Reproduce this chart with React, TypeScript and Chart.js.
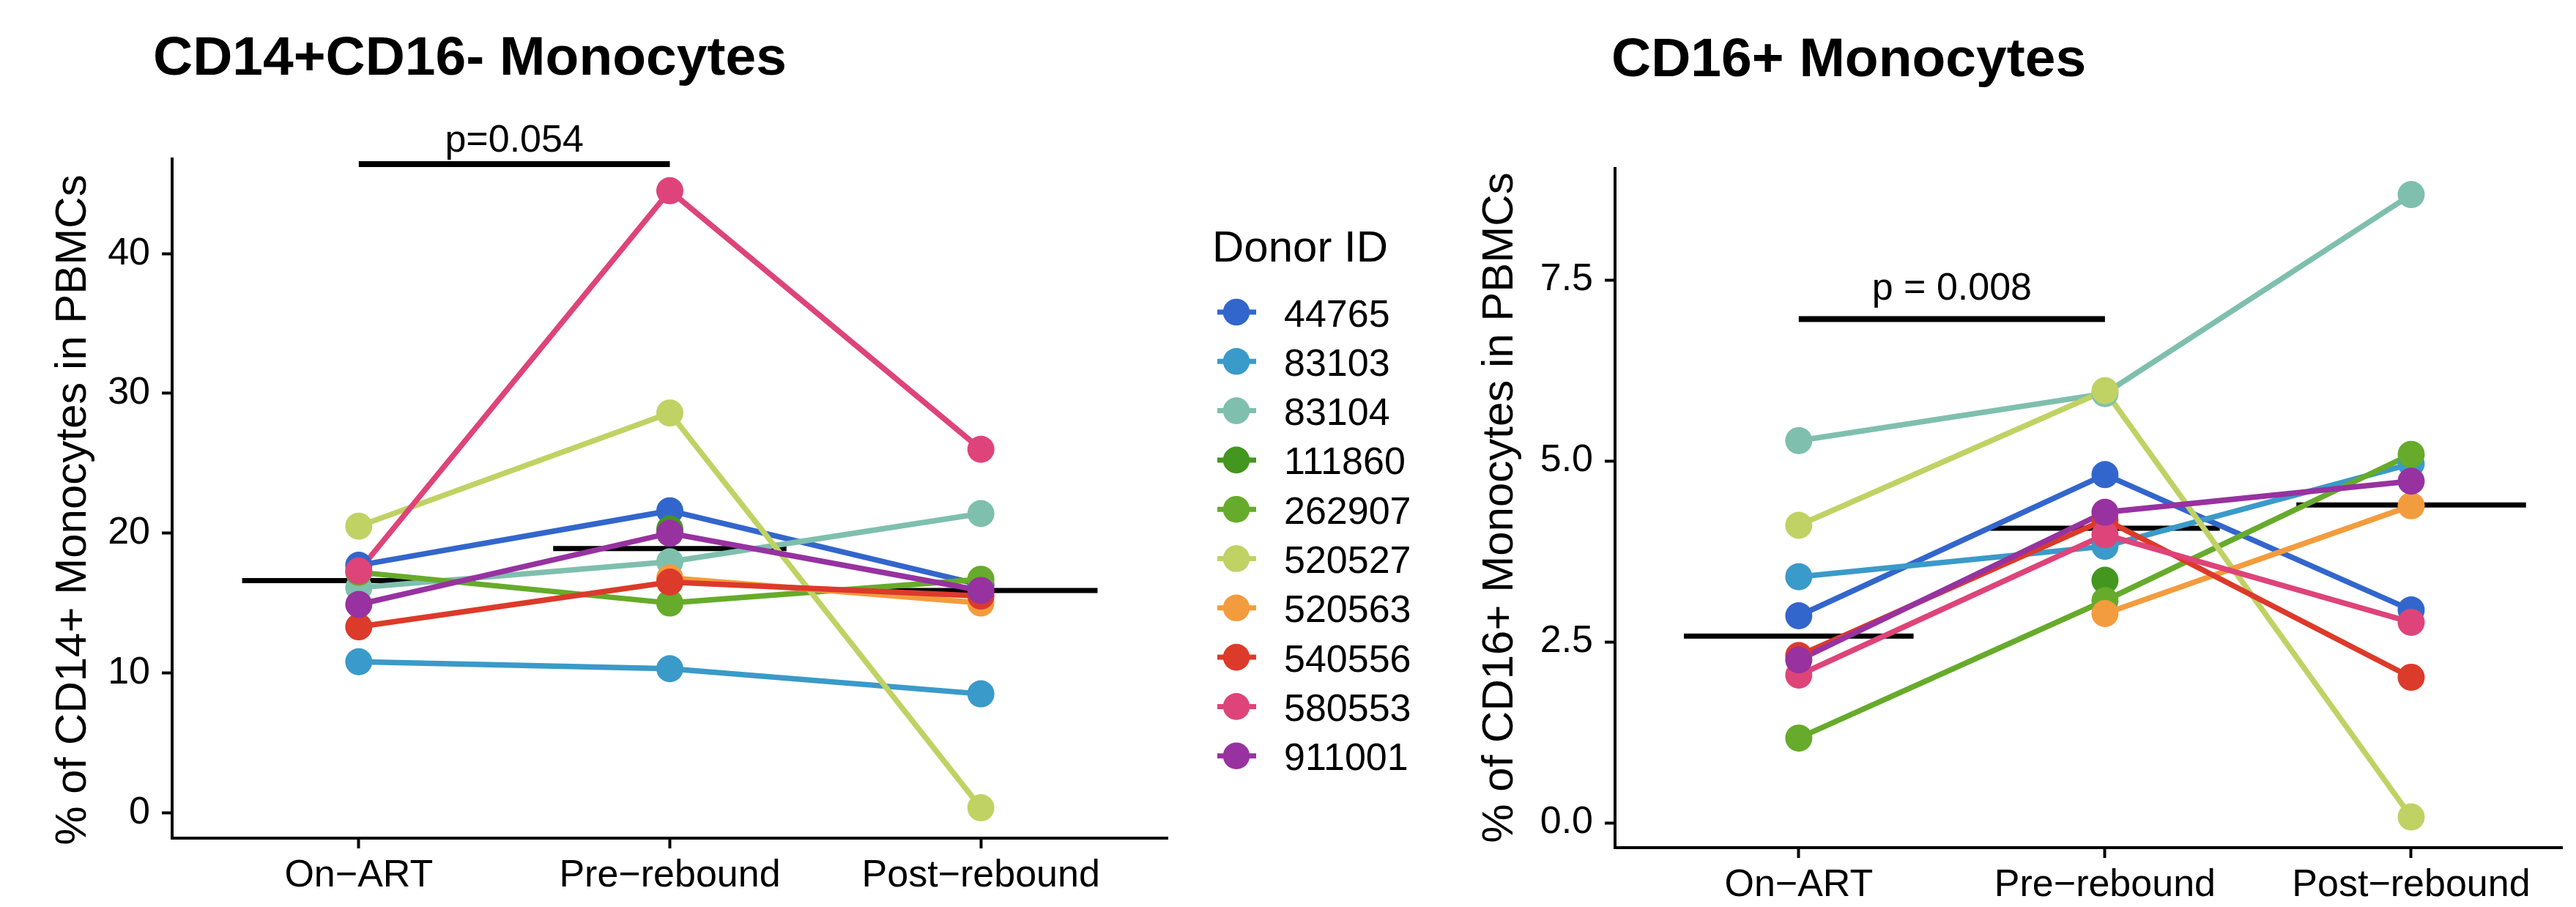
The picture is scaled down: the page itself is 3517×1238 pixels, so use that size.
import React, { useEffect, useRef } from 'react';
import { Chart, registerables } from 'chart.js';

Chart.register(...registerables);

// ---------------- data ----------------
const categories = ['On\u2212ART', 'Pre\u2212rebound', 'Post\u2212rebound'];

const donors = ['44765', '83103', '83104', '111860', '262907', '520527', '520563', '540556', '580553', '911001'];

const donorColors = ['#3366CC', '#3A9AC9', '#7FBFAE', '#43961F', '#66AB2B', '#C0D264', '#F39C3D', '#DC3A2A', '#DE4479', '#9732A0'];

// % of CD14+ monocytes in PBMCs, per donor: [On-ART, Pre-rebound, Post-rebound]
const cd14Values: (number | null)[][] = [
  [17.7, 21.6, 16.3],
  [10.8, 10.3, 8.5],
  [16.1, 17.95, 21.4],
  [null, 20.3, null],
  [17.2, 15.0, 16.7],
  [20.5, 28.6, 0.35],
  [null, 16.8, 15.0],
  [13.3, 16.5, 15.5],
  [17.3, 44.5, 26.0],
  [14.9, 20.0, 15.9],
];

// % of CD16+ monocytes in PBMCs, per donor: [On-ART, Pre-rebound, Post-rebound]
const cd16Values: (number | null)[][] = [
  [2.86, 4.81, 2.94],
  [3.40, 3.82, 4.96],
  [5.28, 5.93, 8.68],
  [null, 3.35, null],
  [1.17, 3.07, 5.09],
  [4.11, 5.97, 0.08],
  [null, 2.89, 4.38],
  [2.31, 4.19, 2.01],
  [2.04, 3.98, 2.77],
  [2.25, 4.29, 4.72],
];

const cd14Medians = [16.6, 18.9, 15.9];
const cd16Medians = [2.58, 4.07, 4.39];

const cd14Ticks = [0, 10, 20, 30, 40];
const cd16Ticks = [0, 2.5, 5, 7.5];

const cd14Title = 'CD14+CD16- Monocytes';
const cd16Title = 'CD16+ Monocytes';
const cd14AxisTitle = '% of CD14+ Monocytes in PBMCs';
const cd16AxisTitle = '% of CD16+ Monocytes in PBMCs';

const cd14PText = 'p=0.054';
const cd14PLevel = 46.4;
const cd16PText = 'p = 0.008';
const cd16PLevel = 6.96;

const legendTitle = 'Donor ID';

// ---------------- helpers ----------------
const FONT = "'Liberation Sans', Arial, Helvetica, sans-serif";

interface PanelSpec {
  values: (number | null)[][];
  medians: number[];
  yTicks: number[];
  yMin: number;
  yMax: number;
  xMax: number;
  tickFmt: (v: number) => string;
  padding: { top: number; right: number; bottom: number; left: number };
  yWidth: number;
  xHeight: number;
  axisTitle: string;
  axisTitleX: number;
  axisTitleY: number;
  title: string;
  titleX: number;
  titleBaseline: number;
  pText: string;
  pLevel: number;
  pGap: number;
  drawLegend: boolean;
}

function buildConfig(spec: PanelSpec): any {
  const datasets: any[] = [];

  // median crossbars
  const medData: any[] = [];
  spec.medians.forEach((m, i) => {
    medData.push({ x: i - 0.375, y: m });
    medData.push({ x: i + 0.375, y: m });
    medData.push({ x: i + 0.5, y: null });
  });
  datasets.push({
    label: 'median',
    data: medData,
    borderColor: '#000',
    borderWidth: 7,
    pointRadius: 0,
    spanGaps: false,
    order: 40,
    borderCapStyle: 'butt',
  });

  donors.forEach((d, i) => {
    const pts = spec.values[i].map((v, j) => ({ x: j, y: v }));
    datasets.push({
      label: d + '-line',
      data: pts,
      borderColor: donorColors[i],
      backgroundColor: donorColors[i],
      borderWidth: 7.5,
      pointRadius: 0,
      spanGaps: false,
      order: 30 - i,
    });
  });
  donors.forEach((d, i) => {
    const pts = spec.values[i].map((v, j) => ({ x: j, y: v }));
    datasets.push({
      label: d,
      data: pts,
      showLine: false,
      borderColor: donorColors[i],
      backgroundColor: donorColors[i],
      pointBackgroundColor: donorColors[i],
      pointBorderWidth: 0,
      pointRadius: 18.5,
      order: 15 - i,
    });
  });

  // significance bracket
  datasets.push({
    label: 'bracket',
    data: [
      { x: 0, y: spec.pLevel },
      { x: 1, y: spec.pLevel },
    ],
    borderColor: '#000',
    borderWidth: 8,
    pointRadius: 0,
    order: 0,
    borderCapStyle: 'butt',
  });

  const annotPlugin = {
    id: 'annot',
    afterDraw(chart: any) {
      const ctx = chart.ctx;
      const xs = chart.scales.x;
      const ys = chart.scales.y;
      ctx.save();
      // main title
      ctx.fillStyle = '#000';
      ctx.font = `bold 75px ${FONT}`;
      ctx.textAlign = 'left';
      ctx.textBaseline = 'alphabetic';
      ctx.fillText(spec.title, spec.titleX, spec.titleBaseline);
      // y axis title
      ctx.save();
      ctx.translate(spec.axisTitleX, spec.axisTitleY);
      ctx.rotate(-Math.PI / 2);
      ctx.font = `60px ${FONT}`;
      ctx.textAlign = 'center';
      ctx.textBaseline = 'middle';
      ctx.fillText(spec.axisTitle, 0, 0);
      ctx.restore();
      // p-value text
      ctx.font = `52px ${FONT}`;
      ctx.textAlign = 'center';
      ctx.textBaseline = 'alphabetic';
      ctx.fillText(spec.pText, xs.getPixelForValue(0.5), ys.getPixelForValue(spec.pLevel) - spec.pGap);
      // legend
      if (spec.drawLegend) {
        ctx.textAlign = 'left';
        ctx.font = `60px ${FONT}`;
        ctx.fillText(legendTitle, 1655, 357);
        ctx.font = `52px ${FONT}`;
        donors.forEach((d, i) => {
          const cy = 426 + 67.3 * i;
          ctx.strokeStyle = donorColors[i];
          ctx.lineWidth = 7;
          ctx.beginPath();
          ctx.moveTo(1662, cy);
          ctx.lineTo(1715, cy);
          ctx.stroke();
          ctx.fillStyle = donorColors[i];
          ctx.beginPath();
          ctx.arc(1688, cy, 18.3, 0, Math.PI * 2);
          ctx.fill();
          ctx.fillStyle = '#000';
          ctx.fillText(d, 1753, cy + 19.5);
        });
      }
      ctx.restore();
    },
  };

  return {
    type: 'line',
    data: { datasets },
    options: {
      responsive: false,
      maintainAspectRatio: false,
      animation: false,
      devicePixelRatio: 1,
      events: [],
      layout: { padding: spec.padding },
      plugins: {
        legend: { display: false },
        tooltip: { enabled: false },
        title: { display: false },
      },
      scales: {
        x: {
          type: 'linear',
          min: -0.6,
          max: spec.xMax,
          afterBuildTicks: (scale: any) => {
            scale.ticks = categories.map((_, i) => ({ value: i }));
          },
          afterFit: (scale: any) => {
            scale.height = spec.xHeight;
          },
          ticks: {
            callback: (v: any) => categories[Math.round(Number(v))] ?? '',
            font: { family: FONT, size: 52 },
            color: '#000',
            padding: 6,
            maxRotation: 0,
            autoSkip: false,
          },
          grid: {
            display: true,
            drawOnChartArea: false,
            drawTicks: true,
            tickLength: 14,
            tickWidth: 4,
            tickColor: '#000',
            color: '#000',
          },
          border: { display: true, color: '#000', width: 4 },
        },
        y: {
          type: 'linear',
          min: spec.yMin,
          max: spec.yMax,
          afterBuildTicks: (scale: any) => {
            scale.ticks = spec.yTicks.map((v) => ({ value: v }));
          },
          afterFit: (scale: any) => {
            scale.width = spec.yWidth;
          },
          ticks: {
            callback: (v: any) => spec.tickFmt(Number(v)),
            font: { family: FONT, size: 52 },
            color: '#000',
            padding: 16,
            autoSkip: false,
          },
          grid: {
            display: true,
            drawOnChartArea: false,
            drawTicks: true,
            tickLength: 14,
            tickWidth: 4,
            tickColor: '#000',
            color: '#000',
          },
          border: { display: true, color: '#000', width: 4 },
          title: { display: false },
        },
      },
    },
    plugins: [annotPlugin],
  };
}

export default function App() {
  const leftRef = useRef<HTMLCanvasElement>(null);
  const rightRef = useRef<HTMLCanvasElement>(null);

  useEffect(() => {
    document.body.style.margin = '0';
    document.body.style.overflow = 'hidden';
    const left = new Chart(
      leftRef.current!,
      buildConfig({
        values: cd14Values,
        medians: cd14Medians,
        yTicks: cd14Ticks,
        yMin: -1.82,
        yMax: 46.77,
        xMax: 2.6,
        tickFmt: (v) => String(v),
        padding: { top: 217, right: 366, bottom: 0, left: 0 },
        yWidth: 235,
        xHeight: 94,
        axisTitle: cd14AxisTitle,
        axisTitleX: 100,
        axisTitleY: 696,
        title: cd14Title,
        titleX: 209,
        titleBaseline: 102,
        pText: cd14PText,
        pLevel: cd14PLevel,
        pGap: 17,
        drawLegend: true,
      })
    );
    const right = new Chart(
      rightRef.current!,
      buildConfig({
        values: cd16Values,
        medians: cd16Medians,
        yTicks: cd16Ticks,
        yMin: -0.344,
        yMax: 9.04,
        xMax: 2.494,
        tickFmt: (v) => v.toFixed(1),
        padding: { top: 230, right: 0, bottom: 0, left: 0 },
        yWidth: 245,
        xHeight: 81,
        axisTitle: cd16AxisTitle,
        axisTitleX: 88,
        axisTitleY: 693,
        title: cd16Title,
        titleX: 240,
        titleBaseline: 104,
        pText: cd16PText,
        pLevel: cd16PLevel,
        pGap: 26,
        drawLegend: false,
      })
    );
    return () => {
      left.destroy();
      right.destroy();
    };
  }, []);

  return (
    <div style={{ position: 'absolute', left: 0, top: 0, width: 3517, height: 1238, background: '#fff', overflow: 'hidden' }}>
      <canvas ref={leftRef} width={1960} height={1238} style={{ position: 'absolute', left: 0, top: 0, width: 1960, height: 1238 }} />
      <canvas ref={rightRef} width={1557} height={1238} style={{ position: 'absolute', left: 1960, top: 0, width: 1557, height: 1238 }} />
    </div>
  );
}
